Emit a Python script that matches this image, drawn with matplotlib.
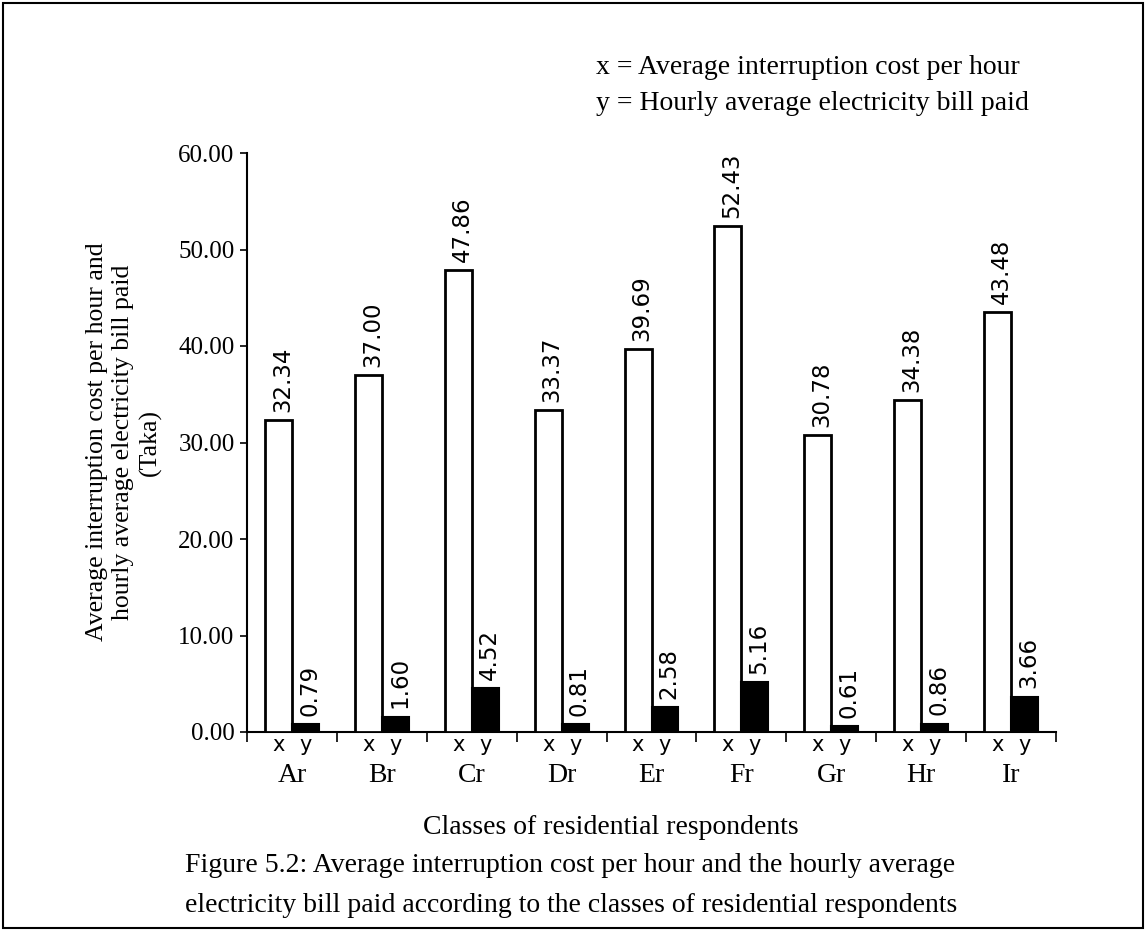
import matplotlib
matplotlib.use("Agg")
import matplotlib.pyplot as plt
import matplotlib.transforms as mtransforms
from matplotlib.patches import Rectangle
import numpy as np

categories = ["Ar", "Br", "Cr", "Dr", "Er", "Fr", "Gr", "Hr", "Ir"]
x_cost = [32.34, 37.00, 47.86, 33.37, 39.69, 52.43, 30.78, 34.38, 43.48]
y_bill = [0.79, 1.60, 4.52, 0.81, 2.58, 5.16, 0.61, 0.86, 3.66]
y_ticks = [0, 10, 20, 30, 40, 50, 60]

W, H = 1148, 941
fig = plt.figure(figsize=(W / 100, H / 100), dpi=100)
serif = ["Liberation Serif", "DejaVu Serif"]
sans = ["DejaVu Sans"]

ax = fig.add_axes([247 / W, (H - 732) / H, (1056 - 247) / W, (732 - 153) / H])
idx = np.arange(len(categories))
bw = 0.30
bx = ax.bar(idx - bw / 2, x_cost, width=bw, facecolor="white", edgecolor="black", linewidth=2.0, zorder=3)
by = ax.bar(idx + bw / 2, y_bill, width=bw, facecolor="black", edgecolor="black", linewidth=1.5, zorder=3)

for bars, vals in ((bx, x_cost), (by, y_bill)):
    for rect, v in zip(bars, vals):
        ax.annotate(f"{v:.2f}", xy=(rect.get_x() + rect.get_width() / 2, rect.get_height()),
                    xytext=(3, 6), textcoords="offset points", rotation=90,
                    ha="center", va="bottom", fontsize=16.5, family=sans)

ax.set_xlim(-0.5, len(categories) - 0.5)
ax.set_ylim(0, 60)
ax.set_yticks(y_ticks)
ax.set_yticklabels([f"{t:.2f}" for t in y_ticks], fontsize=18, family=serif)
ax.tick_params(axis="y", direction="out", length=5, width=1.2, pad=4)

ax.set_xticks(idx)
ax.set_xticklabels(categories, fontsize=20, family=serif)
ax.tick_params(axis="x", which="major", length=0, pad=22)
ax.set_xticks(np.arange(-0.5, len(categories) + 0.5, 1), minor=True)
ax.tick_params(axis="x", which="minor", direction="out", length=7, width=1.2)

for s in ("top", "right"):
    ax.spines[s].set_visible(False)
for s in ("left", "bottom"):
    ax.spines[s].set_linewidth(1.5)

trans = mtransforms.blended_transform_factory(ax.transData, ax.transAxes)
for i in idx:
    ax.annotate("x", xy=(i - bw / 2, 0), xycoords=trans, xytext=(0, -2), textcoords="offset points",
                ha="center", va="top", fontsize=15, family=sans)
    ax.annotate("y", xy=(i + bw / 2, 0), xycoords=trans, xytext=(0, -2), textcoords="offset points",
                ha="center", va="top", fontsize=15, family=sans)

fig.text(124 / W, 1 - 442 / H,
         "Average interruption cost per hour and\nhourly average electricity bill paid\n(Taka)",
         rotation=90, ha="center", va="center", multialignment="center",
         fontsize=18.5, family=serif, linespacing=1.25)

fig.text(611 / W, 1 - 828 / H, "Classes of residential respondents", ha="center", va="center",
         fontsize=20, family=serif)
fig.text(185 / W, 1 - 866 / H,
         "Figure 5.2: Average interruption cost per hour and the hourly average", ha="left", va="center",
         fontsize=20, family=serif)
fig.text(185 / W, 1 - 905 / H,
         "electricity bill paid according to the classes of residential respondents", ha="left", va="center",
         fontsize=20, family=serif)

fig.text(596 / W, 1 - 68 / H, "x = Average interruption cost per hour", ha="left", va="center",
         fontsize=20, family=serif)
fig.text(596 / W, 1 - 103 / H, "y = Hourly average electricity bill paid", ha="left", va="center",
         fontsize=20, family=serif)

fig.patches.append(Rectangle((3 / W, 1 - 928 / H), (1143 - 3) / W, (928 - 3) / H,
                             transform=fig.transFigure, fill=False, edgecolor="black", linewidth=1.5))

fig.savefig("out.png", dpi=100)
